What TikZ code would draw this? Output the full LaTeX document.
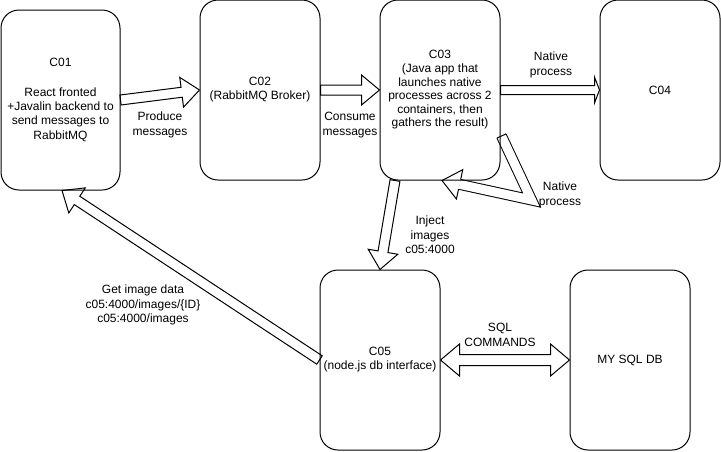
\documentclass[tikz,border=0pt]{standalone}
\usepackage{fontspec}
\setmainfont{Liberation Sans}
\usetikzlibrary{calc}
\pgfdeclarelayer{arrowlayer}
\pgfsetlayers{arrowlayer,main}
\tikzset{
  box/.style={draw, line width=1pt, rounded corners=18pt, minimum width=120pt, minimum height=180pt,
    align=center, inner sep=0pt, font=\fontsize{12}{14}\selectfont},
  lbl/.style={align=center, inner sep=0pt, font=\fontsize{12}{14.5}\selectfont},
  flexhl/.code={\def\fhl{#1}}, flexhw/.code={\def\fhw{#1}}, flexsw/.code={\def\fsw{#1}},
  flexhl=18pt, flexhw=15pt, flexsw=5pt,
  flex/.style={draw, line width=1pt, fill=white, line join=miter,
    to path={($(\tikztostart)!\fsw!90:(\tikztotarget)$)
      -- ($(\tikztotarget)!\fhl!(\tikztostart)!\fsw!90:(\tikztotarget)$)
      -- ($(\tikztotarget)!\fhl!(\tikztostart)!\fhw!90:(\tikztotarget)$)
      -- (\tikztotarget)
      -- ($(\tikztotarget)!\fhl!(\tikztostart)!\fhw!-90:(\tikztotarget)$)
      -- ($(\tikztotarget)!\fhl!(\tikztostart)!\fsw!-90:(\tikztotarget)$)
      -- ($(\tikztostart)!\fsw!-90:(\tikztotarget)$) -- cycle}},
  flexboth/.style={draw, line width=1pt, fill=white, line join=miter,
    to path={(\tikztostart)
      -- ($(\tikztostart)!\fhl!(\tikztotarget)!\fhw!90:(\tikztotarget)$)
      -- ($(\tikztostart)!\fhl!(\tikztotarget)!\fsw!90:(\tikztotarget)$)
      -- ($(\tikztotarget)!\fhl!(\tikztostart)!\fsw!90:(\tikztotarget)$)
      -- ($(\tikztotarget)!\fhl!(\tikztostart)!\fhw!90:(\tikztotarget)$)
      -- (\tikztotarget)
      -- ($(\tikztotarget)!\fhl!(\tikztostart)!\fhw!-90:(\tikztotarget)$)
      -- ($(\tikztotarget)!\fhl!(\tikztostart)!\fsw!-90:(\tikztotarget)$)
      -- ($(\tikztostart)!\fhl!(\tikztotarget)!\fsw!-90:(\tikztotarget)$)
      -- ($(\tikztostart)!\fhl!(\tikztotarget)!\fhw!-90:(\tikztotarget)$)
      -- cycle}},
}
\begin{document}
\begin{tikzpicture}[x=1pt, y=-1pt]
\useasboundingbox (0,0) rectangle (721,451);

% boxes
\node[box, minimum width=119pt, font=\fontsize{12}{14.4}\selectfont] (c01) at (60.5,100) {C01\\[15pt]React fronted\\+Javalin backend to\\send messages to\\RabbitMQ};
\node[box] (c02) at (260,90) {C02\\(RabbitMQ Broker)};
\node[box, font=\fontsize{12}{13.6}\selectfont] (c03) at (440,90) {C03\\(Java app that\\launches native\\processes across 2\\containers, then\\gathers the result)};
\node[box] (c04) at (660,90) {C04};
\node[box] (c05) at (380,360) {C05\\(node.js db interface)};
\node[box] (db) at (630,360) {MY SQL DB};

% connector end points
\coordinate (a5s) at ($(c03.south)+(-45,0)$);
\coordinate (a6t) at ($(c01.south)+(1.5,0)$);
\coordinate (n1) at ($(c03.east)+(1,46)$);
\coordinate (n2) at ($(c03.east)+(31,110)$);
\coordinate (n3) at ($(c03.south)+(2,0)$);
\coordinate (hb) at ($(n3)!18pt!(n2)$);

\begin{pgfonlayer}{arrowlayer}
\draw[flex] (c01.east) to (c02.west);
\draw[flex] (c02.east) to (c03.west);
\draw[flex, flexhl=5pt, flexhw=13pt, flexsw=4.5pt] (c03.east) to (c04.west);
\draw[flex] (a5s) to (c05.north);
\draw[flex] (c05.west) to (a6t);
\draw[flexboth, flexhl=19pt, flexhw=16pt, flexsw=5.5pt] (c05.east) to (db.west);
% bent arrow back to C03
\draw[line width=1pt, double=white, double distance=9pt, line join=miter] (n1) -- (n2) -- (hb);
\draw[line width=1pt] ($(n1)!5pt!90:(n2)$) -- ($(n1)!5pt!-90:(n2)$);
\filldraw[line width=1pt, fill=white, line join=miter] ($(hb)!5pt!90:(n3)$) -- ($(hb)!15pt!90:(n3)$) -- (n3)
  -- ($(hb)!15pt!-90:(n3)$) -- ($(hb)!5pt!-90:(n3)$);
\end{pgfonlayer}

% labels
\node[lbl] (lprod) at (160,125) {Produce\\messages};
\node[lbl] (lcons) at (350,125) {Consume\\messages};
\node[lbl] (lnat1) at (551,65) {Native\\process};
\node[lbl] (lnat2) at (560,195) {Native\\process};
\node[lbl] (linj) at (430,235) {Inject\\images\\c05:4000};
\node[lbl] (lget) at (143,305) {Get image data\\c05:4000/images/\{ID\}\\c05:4000/images};
\node[lbl] (lsql) at (500,335) {SQL\\COMMANDS};
\end{tikzpicture}
\end{document}
